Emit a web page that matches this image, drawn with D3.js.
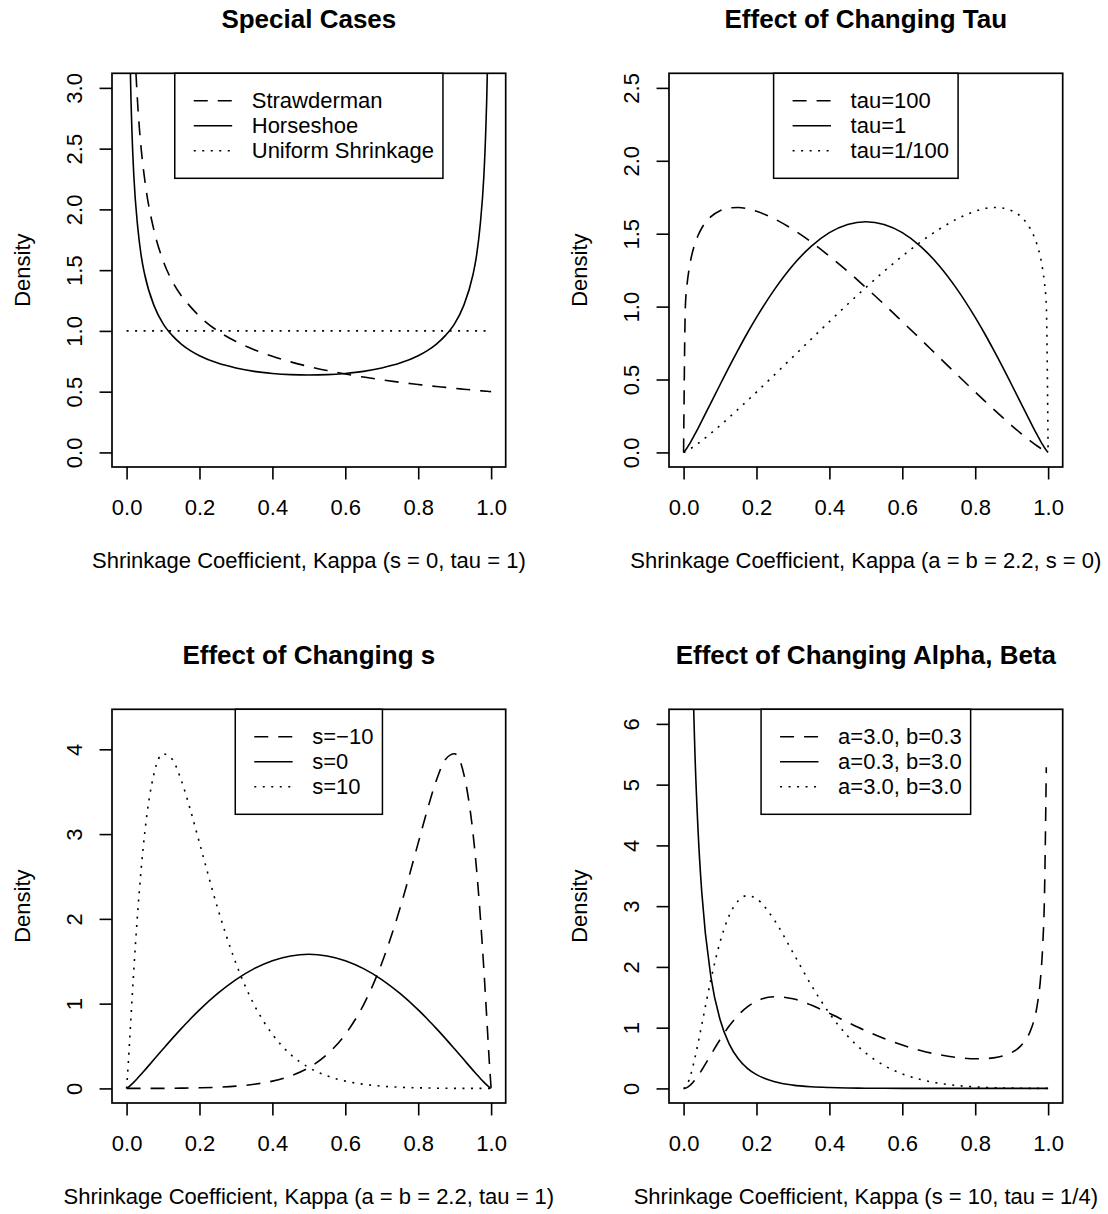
<!DOCTYPE html>
<html>
<head>
<meta charset="utf-8">
<script src="https://cdn.jsdelivr.net/npm/d3@7"></script>
<style>
body { margin: 0; background: #fff; }
svg text { font-family: "Liberation Sans", Arial, Helvetica, sans-serif; font-size: 22px; fill: #000; }
</style>
</head>
<body>
<svg id="svg" width="1108" height="1214"></svg>
<script>
// shrinkage coefficient grid (x values shared by every curve)
var kappa = [0, 0.005, 0.01, 0.015, 0.02, 0.03, 0.04, 0.05, 0.075, 0.1, 0.125, 0.15, 0.175, 0.2,
  0.25, 0.3, 0.35, 0.4, 0.45, 0.5, 0.55, 0.6, 0.65, 0.7, 0.75, 0.8, 0.825, 0.85, 0.875, 0.9,
  0.925, 0.95, 0.96, 0.97, 0.98, 0.985, 0.99, 0.995, 1];

// panel 1: special cases (null = off to infinity)
var strawderman = [null, 7.07, 5.00, 4.08, 3.54, 2.89, 2.50, 2.24, 1.83, 1.58, 1.41, 1.29, 1.20, 1.12,
  1.00, 0.913, 0.845, 0.791, 0.745, 0.707, 0.674, 0.645, 0.620, 0.598, 0.577, 0.559, 0.550, 0.542, 0.535, 0.527,
  0.520, 0.513, 0.510, 0.508, 0.505, 0.504, 0.503, 0.501, 0.500];
var horseshoe = [null, 4.51, 3.20, 2.62, 2.27, 1.87, 1.62, 1.46, 1.21, 1.06, 0.963, 0.892, 0.838, 0.796,
  0.735, 0.695, 0.667, 0.650, 0.640, 0.637, 0.640, 0.650, 0.667, 0.695, 0.735, 0.796, 0.838, 0.892, 0.963, 1.06,
  1.21, 1.46, 1.62, 1.87, 2.27, 2.62, 3.20, 4.51, null];
var uniformShrink = [1, 1, 1, 1, 1, 1, 1, 1, 1, 1, 1, 1, 1, 1, 1, 1, 1, 1, 1, 1,
  1, 1, 1, 1, 1, 1, 1, 1, 1, 1, 1, 1, 1, 1, 1, 1, 1, 1, 1];

// panel 2: changing tau (a = b = 2.2, s = 0)
var tau100 = [0, 1.007, 1.163, 1.256, 1.325, 1.422, 1.489, 1.539, 1.617, 1.658, 1.676, 1.680, 1.672, 1.654,
  1.601, 1.529, 1.443, 1.346, 1.242, 1.131, 1.016, 0.897, 0.777, 0.655, 0.534, 0.414, 0.355, 0.297, 0.240, 0.184,
  0.131, 0.081, 0.062, 0.044, 0.027, 0.019, 0.012, 0.005, 0];
var tau1 = [0, 0.0144, 0.0328, 0.0531, 0.0745, 0.120, 0.167, 0.216, 0.340, 0.464, 0.587, 0.705, 0.819, 0.926,
  1.120, 1.284, 1.413, 1.507, 1.563, 1.582, 1.563, 1.507, 1.413, 1.284, 1.120, 0.926, 0.819, 0.705, 0.587, 0.464,
  0.340, 0.216, 0.167, 0.120, 0.0745, 0.0531, 0.0328, 0.0144, 0];
var tauHundredth = [0, 0.005, 0.012, 0.019, 0.027, 0.044, 0.062, 0.081, 0.131, 0.184, 0.240, 0.297, 0.355, 0.414,
  0.534, 0.655, 0.777, 0.897, 1.016, 1.131, 1.242, 1.346, 1.443, 1.529, 1.601, 1.654, 1.672, 1.680, 1.676, 1.658,
  1.617, 1.539, 1.489, 1.422, 1.325, 1.256, 1.163, 1.007, 0];

// panel 3: changing s (a = b = 2.2, tau = 1)
var sMinus10 = [0, 0, 0, 0, 0, 0, 0, 0, 0.001, 0.001, 0.002, 0.003, 0.005, 0.007,
  0.014, 0.027, 0.049, 0.086, 0.148, 0.246, 0.401, 0.638, 0.986, 1.476, 2.124, 2.896, 3.286, 3.635, 3.884, 3.947,
  3.709, 3.022, 2.587, 2.049, 1.410, 1.056, 0.686, 0.316, 0];
var s0 = [0, 0.0144, 0.0328, 0.0531, 0.0745, 0.120, 0.167, 0.216, 0.340, 0.464, 0.587, 0.705, 0.819, 0.926,
  1.120, 1.284, 1.413, 1.507, 1.563, 1.582, 1.563, 1.507, 1.413, 1.284, 1.120, 0.926, 0.819, 0.705, 0.587, 0.464,
  0.340, 0.216, 0.167, 0.120, 0.0745, 0.0531, 0.0328, 0.0144, 0];
var s10 = [0, 0.316, 0.686, 1.056, 1.410, 2.049, 2.587, 3.022, 3.709, 3.947, 3.884, 3.635, 3.286, 2.896,
  2.124, 1.476, 0.986, 0.638, 0.401, 0.246, 0.148, 0.086, 0.049, 0.027, 0.014, 0.007, 0.005, 0.003, 0.002, 0.001,
  0.001, 0, 0, 0, 0, 0, 0, 0, 0];

// panel 4: changing alpha, beta (s = 10, tau = 1/4)
var a3b03 = [0, 0.004, 0.017, 0.037, 0.062, 0.129, 0.211, 0.304, 0.556, 0.805, 1.026, 1.206, 1.342, 1.435,
  1.510, 1.475, 1.372, 1.236, 1.090, 0.949, 0.823, 0.714, 0.625, 0.556, 0.510, 0.488, 0.490, 0.503, 0.533, 0.591,
  0.700, 0.927, 1.095, 1.365, 1.868, 2.330, 3.167, 5.288, null];
var a03b3 = [null, 26.6, 15.49, 11.03, 8.53, 5.75, 4.21, 3.22, 1.836, 1.135, 0.734, 0.488, 0.330, 0.227,
  0.110, 0.054, 0.027, 0.014, 0.007, 0.004, 0.002, 0.001, 0, 0, 0, 0, 0, 0, 0, 0,
  0, 0, 0, 0, 0, 0, 0, 0, 0];
var a3b3 = [0, 0.017, 0.066, 0.140, 0.235, 0.473, 0.752, 1.051, 1.791, 2.408, 2.843, 3.090, 3.173, 3.122,
  2.760, 2.237, 1.703, 1.236, 0.862, 0.580, 0.378, 0.239, 0.146, 0.086, 0.048, 0.025, 0.018, 0.012, 0.008, 0.005,
  0.003, 0.001, 0.001, 0, 0, 0, 0, 0, 0];

// tick values
var xTicks = [0, 0.2, 0.4, 0.6, 0.8, 1.0];
var yTicks1 = [0, 0.5, 1, 1.5, 2, 2.5, 3];
var yTicks2 = [0, 0.5, 1, 1.5, 2, 2.5];
var yTicks3 = [0, 1, 2, 3, 4];
var yTicks4 = [0, 1, 2, 3, 4, 5, 6];

var dashStyle = {dash: "14,10", solid: null, dot: "2,6.5"};
var W = 393.7, H = 393.7;

var panels = [
  {title: "Special Cases", xlab: "Shrinkage Coefficient, Kappa (s = 0, tau = 1)",
   left: 112, top: 73.3, ymax: 3, yticks: yTicks1, yfmt: d3.format(".1f"),
   series: [[strawderman, "dash", "Strawderman"], [horseshoe, "solid", "Horseshoe"], [uniformShrink, "dot", "Uniform Shrinkage"]]},
  {title: "Effect of Changing Tau", xlab: "Shrinkage Coefficient, Kappa (a = b = 2.2, s = 0)",
   left: 669, top: 73.3, ymax: 2.5, yticks: yTicks2, yfmt: d3.format(".1f"),
   series: [[tau100, "dash", "tau=100"], [tau1, "solid", "tau=1"], [tauHundredth, "dot", "tau=1/100"]]},
  {title: "Effect of Changing s", xlab: "Shrinkage Coefficient, Kappa (a = b = 2.2, tau = 1)",
   left: 112, top: 709.3, ymax: 4.3, yticks: yTicks3, yfmt: d3.format("d"),
   series: [[sMinus10, "dash", "s=\u221210"], [s0, "solid", "s=0"], [s10, "dot", "s=10"]]},
  {title: "Effect of Changing Alpha, Beta", xlab: "Shrinkage Coefficient, Kappa (s = 10, tau = 1/4)",
   left: 669, top: 709.3, ymax: 6, yticks: yTicks4, yfmt: d3.format("d"),
   series: [[a3b03, "dash", "a=3.0, b=0.3"], [a03b3, "solid", "a=0.3, b=3.0"], [a3b3, "dot", "a=3.0, b=3.0"]]}
];

var svg = d3.select("#svg");
var defs = svg.append("defs");

panels.forEach(function(p, i) {
  var g = svg.append("g");
  var x = d3.scaleLinear().domain([-0.04, 1.04]).range([p.left, p.left + W]);
  var y = d3.scaleLinear().domain([-0.04 * p.ymax, 1.04 * p.ymax]).range([p.top + H, p.top]);
  var cx = p.left + W / 2;

  defs.append("clipPath").attr("id", "clip" + i)
    .append("rect").attr("x", p.left).attr("y", p.top).attr("width", W).attr("height", H);

  var line = d3.line()
    .defined(function(d) { return d[1] !== null; })
    .x(function(d) { return x(d[0]); })
    .y(function(d) { return y(d[1]); })
    .curve(d3.curveMonotoneX);

  // curves
  p.series.forEach(function(s) {
    g.append("path")
      .datum(kappa.map(function(k, j) { return [k, s[0][j]]; }))
      .attr("d", line)
      .attr("clip-path", "url(#clip" + i + ")")
      .attr("fill", "none")
      .attr("stroke", "#000")
      .attr("stroke-width", 1.6)
      .attr("stroke-dasharray", dashStyle[s[1]]);
  });

  // x axis
  var xa = g.append("g").attr("transform", "translate(0," + (p.top + H) + ")")
    .call(d3.axisBottom(x).tickValues(xTicks).tickFormat(d3.format(".1f")).tickSize(12.45));
  xa.attr("font-size", null).attr("font-family", null);
  xa.select(".domain").remove();
  xa.selectAll("line").attr("stroke-width", 1.6);
  xa.selectAll("text").attr("y", 48.3).attr("dy", null);

  // y axis, labels parallel to the axis
  var ya = g.append("g").attr("transform", "translate(" + p.left + ",0)")
    .call(d3.axisLeft(y).tickValues(p.yticks).tickFormat(p.yfmt).tickSize(12.45));
  ya.attr("font-size", null).attr("font-family", null);
  ya.select(".domain").remove();
  ya.selectAll("line").attr("stroke-width", 1.6);
  ya.selectAll("text").attr("x", 0).attr("y", -30.3).attr("dy", null)
    .attr("text-anchor", "middle").attr("transform", "rotate(-90)");

  // plot box
  g.append("rect").attr("x", p.left).attr("y", p.top).attr("width", W).attr("height", H)
    .attr("fill", "none").attr("stroke", "#000").attr("stroke-width", 1.7);

  // titles
  g.append("text").attr("x", cx).attr("y", p.top - 45).attr("text-anchor", "middle")
    .style("font-size", "26px").style("font-weight", "bold").text(p.title);
  g.append("text").attr("x", cx).attr("y", p.top + H + 100.5).attr("text-anchor", "middle").text(p.xlab);
  g.append("text").attr("transform", "translate(" + (p.left - 82.5) + "," + (p.top + H / 2) + ") rotate(-90)")
    .attr("text-anchor", "middle").text("Density");

  // legend at top centre
  var lg = g.append("g");
  var box = lg.append("rect").attr("y", p.top).attr("height", 105)
    .attr("fill", "#fff").attr("stroke", "#000").attr("stroke-width", 1.5);
  var labels = lg.selectAll("text.lab").data(p.series).enter().append("text")
    .attr("class", "lab")
    .attr("y", function(d, r) { return p.top + 27.5 + 25 * r + 7.5; })
    .text(function(d) { return d[2]; });
  var tw = 0;
  labels.each(function() { tw = Math.max(tw, this.getComputedTextLength()); });
  var bw = 77 + tw + 9;
  var L = cx - bw / 2;
  box.attr("x", L).attr("width", bw);
  labels.attr("x", L + 77);
  lg.selectAll("line.seg").data(p.series).enter().append("line")
    .attr("class", "seg")
    .attr("x1", L + 19).attr("x2", L + 57.4)
    .attr("y1", function(d, r) { return p.top + 27.5 + 25 * r; })
    .attr("y2", function(d, r) { return p.top + 27.5 + 25 * r; })
    .attr("stroke", "#000").attr("stroke-width", 1.6)
    .attr("stroke-dasharray", function(d) { return dashStyle[d[1]]; });
});
</script>
</body>
</html>
